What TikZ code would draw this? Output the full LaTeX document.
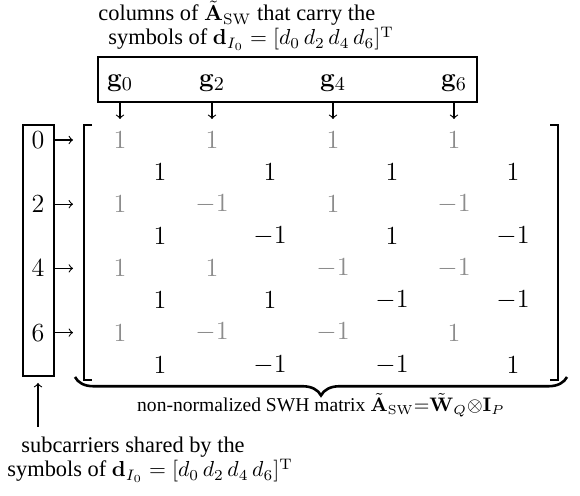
\documentclass[tikz,border=0pt]{standalone}
\usepackage[no-math]{fontspec}
\setmainfont{Liberation Serif}
\usetikzlibrary{decorations.pathreplacing,fit}
\begin{document}
\begin{tikzpicture}[x=0.46pt,y=-0.46pt,
  txt/.style={inner sep=0pt, anchor=base west, font=\fontsize{10.3}{12}\selectfont},
  gent/.style={inner sep=0pt, text=black!45, font=\large},
  bent/.style={inner sep=0pt, text=black, font=\large},
  glab/.style={inner sep=0pt, anchor=base, font=\fontsize{13}{15}\selectfont},
  rlab/.style={inner sep=0pt, font=\large},
  frame/.style={draw, line width=0.5pt, inner sep=0pt},
  arr/.style={->, line width=0.5pt},
  bracket/.style={line width=1pt},
  bracebrace/.style={decorate, decoration={brace, mirror, amplitude=8.5pt}, line width=1.2pt}]
\useasboundingbox (0,0) rectangle (580,496);
% title
\node[txt] (t1) at (98,21) {columns of $\tilde{\mathbf{A}}_{\mathrm{SW}}$ that carry the};
\node[txt] (t2) at (108,45) {symbols of $\mathbf{d}_{I_0} = [d_0\,d_2\,d_4\,d_6]^{\mathrm{T}}$};
% top box with g labels
\node[frame, fit={(98,57) (477,102)}] (gbox) {};
\foreach \n/\x in {0/120,2/212,4/333,6/454}{
  \node[glab] (g\n) at (\x,87) {$\mathbf{g}_{\n}$};
  \coordinate (gt\n) at (\x,119);
  \draw[arr] (gbox.south -| gt\n) -- (gt\n);
}
% matrix entries
\foreach \r/\va/\vb/\vc/\vd in {0/1/1/1/1,2/1/-1/1/-1,4/1/1/-1/-1,6/1/-1/-1/1}{
  \node[gent] (e\r-1) at (120,{140+32.1*\r}) {$\va$};
  \node[gent] (e\r-3) at (212,{140+32.1*\r}) {$\vb$};
  \node[gent] (e\r-5) at (333,{140+32.1*\r}) {$\vc$};
  \node[gent] (e\r-7) at (454,{140+32.1*\r}) {$\vd$};
}
\foreach \r/\va/\vb/\vc/\vd in {1/1/1/1/1,3/1/-1/1/-1,5/1/1/-1/-1,7/1/-1/-1/1}{
  \node[bent] (e\r-2) at (160,{140+32.1*\r}) {$\va$};
  \node[bent] (e\r-4) at (270,{140+32.1*\r}) {$\vb$};
  \node[bent] (e\r-6) at (392,{140+32.1*\r}) {$\vc$};
  \node[bent] (e\r-8) at (513,{140+32.1*\r}) {$\vd$};
}
% brackets
\draw[bracket] (92,125) -- (84,125) -- (84,380) -- (92,380);
\draw[bracket] (550,125) -- (558,125) -- (558,380) -- (550,380);
% left box with row labels
\node[frame, fit={(23,125) (54,376)}] (sbox) {};
\foreach \k in {0,2,4,6}{
  \node[rlab] (l\k) at (38,{140+32.1*\k}) {$\k$};
  \coordinate (a\k) at (73,{140+32.1*\k});
  \draw[arr] (sbox.east |- a\k) -- (a\k);
}
% brace and caption
\coordinate (brL) at (75,377);
\coordinate (brR) at (567,377);
\draw[bracebrace] (brL) -- (brR);
\node[inner sep=0pt, anchor=base, font=\small] (cap) at (321,412) {non-normalized SWH matrix $\tilde{\mathbf{A}}_{\mathrm{SW}}{=}\tilde{\mathbf{W}}_Q{\otimes}\mathbf{I}_P$};
% bottom annotation
\coordinate (ua) at (38,427);
\coordinate (ub) at (38,383);
\draw[arr] (ua) -- (ub);
\node[txt] (b1) at (21,453) {subcarriers shared by the};
\node[txt] (b2) at (7,477) {symbols of $\mathbf{d}_{I_0} = [d_0\,d_2\,d_4\,d_6]^{\mathrm{T}}$};
\end{tikzpicture}
\end{document}
